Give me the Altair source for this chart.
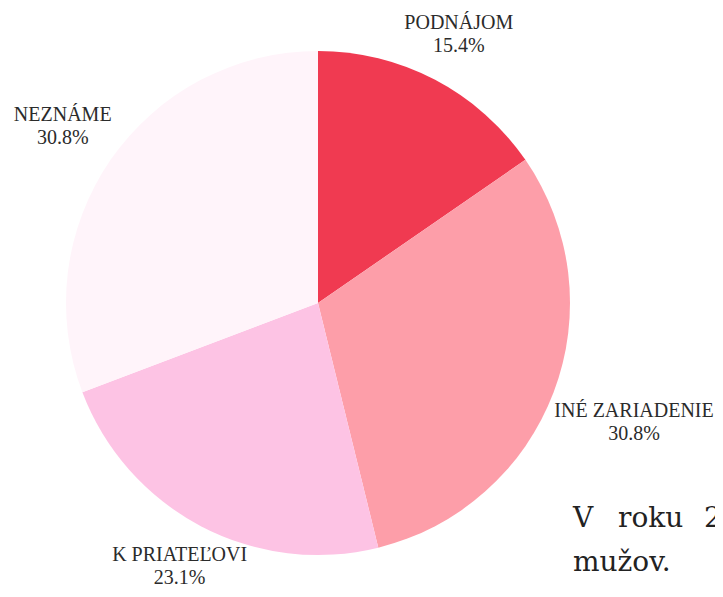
import altair as alt
import pandas as pd

categories = ["PODNÁJOM", "INÉ ZARIADENIE", "K PRIATEĽOVI", "NEZNÁME"]
values = [15.4, 30.8, 23.1, 30.8]
colors = ["#f03a51", "#fd9ea9", "#fdc3e4", "#fff4fa"]

body_line1 = ["V", "roku", "2"]
body_line2 = ["mužov."]

df = pd.DataFrame({"cat": categories, "value": values, "idx": list(range(len(categories)))})

pie = alt.Chart(df).mark_arc(outerRadius=252, stroke=None).encode(
    theta=alt.Theta("value:Q", stack=True),
    order=alt.Order("idx:Q", sort="ascending"),
    color=alt.Color("cat:N", scale=alt.Scale(domain=categories, range=colors), legend=None),
)

labels = (
    alt.Chart(df)
    .transform_joinaggregate(total="sum(value)")
    .transform_window(cum="sum(value)", sort=[alt.SortField("idx")], frame=[None, 0])
    .transform_calculate(
        mid="datum.cum - datum.value/2",
        ang="(datum.cum - datum.value/2)/datum.total*2*PI",
        r="278 + abs(sin(datum.ang))*length(datum.cat)*4.8 + cos(datum.ang)*8",
        lbl="[datum.cat, format(datum.value, '.1f') + '%']",
    )
    .mark_text(font="Liberation Serif", fontSize=20, lineHeight=23, color="#2b2b2b",
               align="center", baseline="middle", dy=-11.5)
    .encode(
        theta=alt.Theta("mid:Q", stack=None),
        radius=alt.Radius("r:Q", scale=None),
        text="lbl:N",
    )
)

dummy = alt.Chart(pd.DataFrame({"a": [0]}))


def body_word(txt, x, y):
    return dummy.mark_text(font="DejaVu Serif", fontSize=28, color="#222222",
                           align="left", baseline="alphabetic").encode(
        x=alt.value(x), y=alt.value(y), text=alt.value(txt))


body = [
    body_word(body_line1[0], 565, 510),
    body_word(body_line1[1], 610, 510),
    body_word(body_line1[2], 696, 510),
    body_word(body_line2[0], 565, 554),
]

chart = alt.layer(pie, labels, *body).properties(
    width=620, height=572,
    autosize=alt.AutoSizeParams(type="none"),
    padding={"left": 0, "top": 9, "right": 87, "bottom": 0},
    background="white",
).configure_view(stroke=None)

chart.save("out.html", embed_options={"renderer": "svg", "actions": False})
